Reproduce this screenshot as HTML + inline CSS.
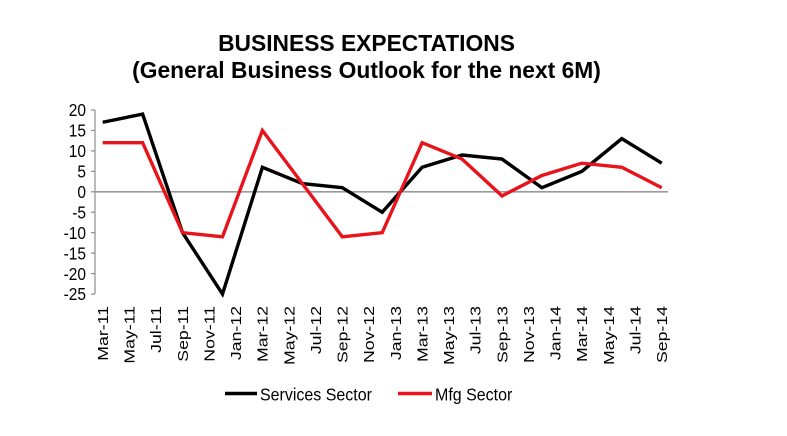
<!DOCTYPE html>
<html>
<head>
<meta charset="utf-8">
<style>
  html, body { margin: 0; padding: 0; background: #ffffff; }
  body { width: 787px; height: 436px; overflow: hidden; }
  svg { display: block; }
  text { font-family: "Liberation Sans", Arial, sans-serif; fill: #000; }
</style>
</head>
<body>
<svg width="787" height="436" viewBox="0 0 787 436" xmlns="http://www.w3.org/2000/svg">
  <rect x="0" y="0" width="787" height="436" fill="#ffffff"/>

  <!-- Title -->
  <text x="366.5" y="51" text-anchor="middle" font-size="22.8" font-weight="bold">BUSINESS EXPECTATIONS</text>
  <text x="366.5" y="78" text-anchor="middle" font-size="22.8" font-weight="bold">(General Business Outlook for the next 6M)</text>

  <!-- Y axis -->
  <line x1="95" y1="110" x2="95" y2="294.05" stroke="#8c8c8c" stroke-width="1.2"/>
  <g stroke="#8c8c8c" stroke-width="1.2">
    <line x1="91" y1="110" x2="95" y2="110"/>
    <line x1="91" y1="130.45" x2="95" y2="130.45"/>
    <line x1="91" y1="150.9" x2="95" y2="150.9"/>
    <line x1="91" y1="171.35" x2="95" y2="171.35"/>
    <line x1="91" y1="191.8" x2="95" y2="191.8"/>
    <line x1="91" y1="212.25" x2="95" y2="212.25"/>
    <line x1="91" y1="232.7" x2="95" y2="232.7"/>
    <line x1="91" y1="253.15" x2="95" y2="253.15"/>
    <line x1="91" y1="273.6" x2="95" y2="273.6"/>
    <line x1="91" y1="294.05" x2="95" y2="294.05"/>
  </g>
  <g font-size="15.5" text-anchor="end">
    <text transform="translate(86,116.2) scale(1,1.13)">20</text>
    <text transform="translate(86,136.6) scale(1,1.13)">15</text>
    <text transform="translate(86,157.1) scale(1,1.13)">10</text>
    <text transform="translate(86,177.5) scale(1,1.13)">5</text>
    <text transform="translate(86,198.0) scale(1,1.13)">0</text>
    <text transform="translate(86,218.4) scale(1,1.13)">-5</text>
    <text transform="translate(86,238.9) scale(1,1.13)">-10</text>
    <text transform="translate(86,259.3) scale(1,1.13)">-15</text>
    <text transform="translate(86,279.8) scale(1,1.13)">-20</text>
    <text transform="translate(86,300.2) scale(1,1.13)">-25</text>
  </g>

  <!-- Zero line (category axis) -->
  <line x1="95" y1="191.8" x2="668" y2="191.8" stroke="#9a9a9a" stroke-width="1.6"/>

  <!-- Series: Services Sector (black) -->
  <polyline fill="none" stroke="#000000" stroke-width="3.4" stroke-linejoin="miter" stroke-miterlimit="10"
    points="102.7,122.27 142.63,114.09 182.56,232.7 222.49,294.05 262.42,167.26 302.35,183.62 342.28,187.71 382.21,212.25 422.14,167.26 462.07,155.0 502.0,159.08 541.93,187.71 581.86,171.35 621.79,138.63 661.72,163.17"/>

  <!-- Series: Mfg Sector (red) -->
  <polyline fill="none" stroke="#e8141b" stroke-width="3.4" stroke-linejoin="miter" stroke-miterlimit="10"
    points="102.7,142.72 142.63,142.72 182.56,232.7 222.49,236.79 262.42,130.45 302.35,183.62 342.28,236.79 382.21,232.7 422.14,142.72 462.07,159.08 502.0,195.89 541.93,175.44 581.86,163.17 621.79,167.26 661.72,187.71"/>

  <!-- X axis labels (rotated) -->
  <g font-size="15" text-anchor="end">
    <text transform="translate(108,306) rotate(-90) scale(1.18,1)">Mar-11</text>
    <text transform="translate(134.6,306) rotate(-90) scale(1.18,1)">May-11</text>
    <text transform="translate(161.2,306) rotate(-90) scale(1.18,1)">Jul-11</text>
    <text transform="translate(187.9,306) rotate(-90) scale(1.18,1)">Sep-11</text>
    <text transform="translate(214.5,306) rotate(-90) scale(1.18,1)">Nov-11</text>
    <text transform="translate(241.1,306) rotate(-90) scale(1.18,1)">Jan-12</text>
    <text transform="translate(267.7,306) rotate(-90) scale(1.18,1)">Mar-12</text>
    <text transform="translate(294.3,306) rotate(-90) scale(1.18,1)">May-12</text>
    <text transform="translate(321.0,306) rotate(-90) scale(1.18,1)">Jul-12</text>
    <text transform="translate(347.6,306) rotate(-90) scale(1.18,1)">Sep-12</text>
    <text transform="translate(374.2,306) rotate(-90) scale(1.18,1)">Nov-12</text>
    <text transform="translate(400.8,306) rotate(-90) scale(1.18,1)">Jan-13</text>
    <text transform="translate(427.4,306) rotate(-90) scale(1.18,1)">Mar-13</text>
    <text transform="translate(454.1,306) rotate(-90) scale(1.18,1)">May-13</text>
    <text transform="translate(480.7,306) rotate(-90) scale(1.18,1)">Jul-13</text>
    <text transform="translate(507.3,306) rotate(-90) scale(1.18,1)">Sep-13</text>
    <text transform="translate(533.9,306) rotate(-90) scale(1.18,1)">Nov-13</text>
    <text transform="translate(560.6,306) rotate(-90) scale(1.18,1)">Jan-14</text>
    <text transform="translate(587.2,306) rotate(-90) scale(1.18,1)">Mar-14</text>
    <text transform="translate(613.8,306) rotate(-90) scale(1.18,1)">May-14</text>
    <text transform="translate(640.4,306) rotate(-90) scale(1.18,1)">Jul-14</text>
    <text transform="translate(667.0,306) rotate(-90) scale(1.18,1)">Sep-14</text>
  </g>

  <!-- Legend -->
  <line x1="225" y1="393.5" x2="257" y2="393.5" stroke="#000000" stroke-width="3.4"/>
  <text transform="translate(260,400.5) scale(1,1.12)" font-size="16">Services Sector</text>
  <line x1="398" y1="393.5" x2="432" y2="393.5" stroke="#e8141b" stroke-width="3.4"/>
  <text transform="translate(435,400.5) scale(1,1.12)" font-size="16">Mfg Sector</text>
</svg>
</body>
</html>
